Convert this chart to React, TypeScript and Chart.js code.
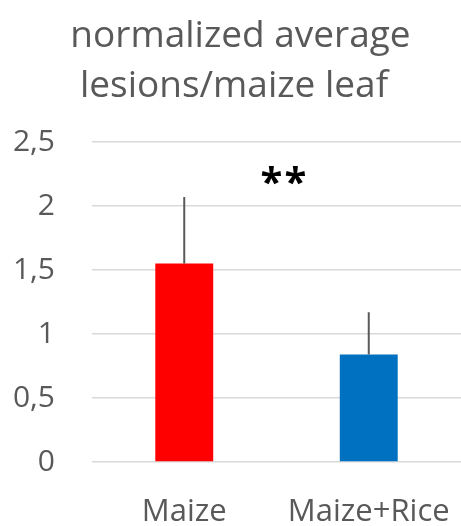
import React, { useEffect, useRef } from "react";
import { Chart, registerables } from "chart.js";

Chart.register(...registerables);

const categories = ["Maize", "Maize+Rice"];
const values = [1.55, 0.84];
const errors = [0.52, 0.33];
const barColors = ["#FF0000", "#0070C0"];
const titleLines = ["normalized average", "lesions/maize leaf"];
const significance = "**";
const yMax = 2.5;
const yStep = 0.5;

const FONT = "'Open Sans', sans-serif";

const overlayPlugin = {
  id: "overlay",
  afterDatasetsDraw(chart: any) {
    const ctx = chart.ctx;
    const meta = chart.getDatasetMeta(0);
    const yScale = chart.scales.y;
    ctx.save();
    ctx.strokeStyle = "#595959";
    ctx.lineWidth = 2;
    meta.data.forEach((el: any, i: number) => {
      const yTop = yScale.getPixelForValue(values[i] + errors[i]);
      ctx.beginPath();
      ctx.moveTo(el.x, el.y);
      ctx.lineTo(el.x, yTop);
      ctx.stroke();
    });
    ctx.restore();
  },
  afterDraw(chart: any) {
    const ctx = chart.ctx;
    ctx.save();
    ctx.fillStyle = "#595959";
    ctx.font = `37px ${FONT}`;
    ctx.textAlign = "center";
    ctx.textBaseline = "alphabetic";
    ctx.fillText(titleLines[0], 240.5, 47);
    ctx.fillText(titleLines[1], 234, 97);
    ctx.fillStyle = "#000000";
    ctx.font = `bold 40px ${FONT}`;
    ctx.textAlign = "left";
    const centers = [271.5, 295.5];
    for (let i = 0; i < significance.length; i++) {
      const ch = significance[i];
      const m = ctx.measureText(ch);
      const w = m.actualBoundingBoxLeft + m.actualBoundingBoxRight;
      const h = m.actualBoundingBoxAscent + m.actualBoundingBoxDescent;
      const x = centers[i] - w / 2 + m.actualBoundingBoxLeft;
      const y = 175 - h / 2 + m.actualBoundingBoxAscent;
      ctx.fillText(ch, x, y);
    }
    ctx.restore();
  },
};

export default function App() {
  const ref = useRef<HTMLCanvasElement | null>(null);
  useEffect(() => {
    if (!ref.current) return;
    const chart = new Chart(ref.current, {
      type: "bar",
      data: {
        labels: categories,
        datasets: [
          {
            data: values,
            backgroundColor: barColors,
            borderWidth: 0,
            barPercentage: 0.314,
            categoryPercentage: 1,
          },
        ],
      },
      options: {
        responsive: false,
        animation: false,
        devicePixelRatio: 1,
        layout: { padding: { top: 142, left: 0, right: 0, bottom: 0 } },
        plugins: {
          legend: { display: false },
          title: { display: false },
          tooltip: { enabled: false },
        },
        scales: {
          x: {
            grid: { display: false, drawTicks: false },
            border: { display: false },
            ticks: {
              color: "#595959",
              font: { family: FONT, size: 31 },
              padding: 32,
              maxRotation: 0,
              autoSkip: false,
            },
            afterFit: (s: any) => {
              s.height = 64;
              s.paddingLeft = 0;
              s.paddingRight = 0;
            },
          },
          y: {
            min: 0,
            max: yMax,
            grid: { color: "#d9d9d9", lineWidth: 1.5, drawTicks: false },
            border: { display: false },
            ticks: {
              stepSize: yStep,
              color: "#595959",
              font: { family: FONT, size: 30 },
              padding: 37,
              callback: (v: any) => String(v).replace(".", ","),
            },
            afterFit: (s: any) => {
              s.width = 92;
            },
          },
        },
      },
      plugins: [overlayPlugin],
    });
    return () => chart.destroy();
  }, []);
  return (
    <div style={{ position: "fixed", left: 0, top: 0, width: 461, height: 526, background: "#fff" }}>
      <canvas ref={ref} width={461} height={526} style={{ display: "block" }} />
    </div>
  );
}
